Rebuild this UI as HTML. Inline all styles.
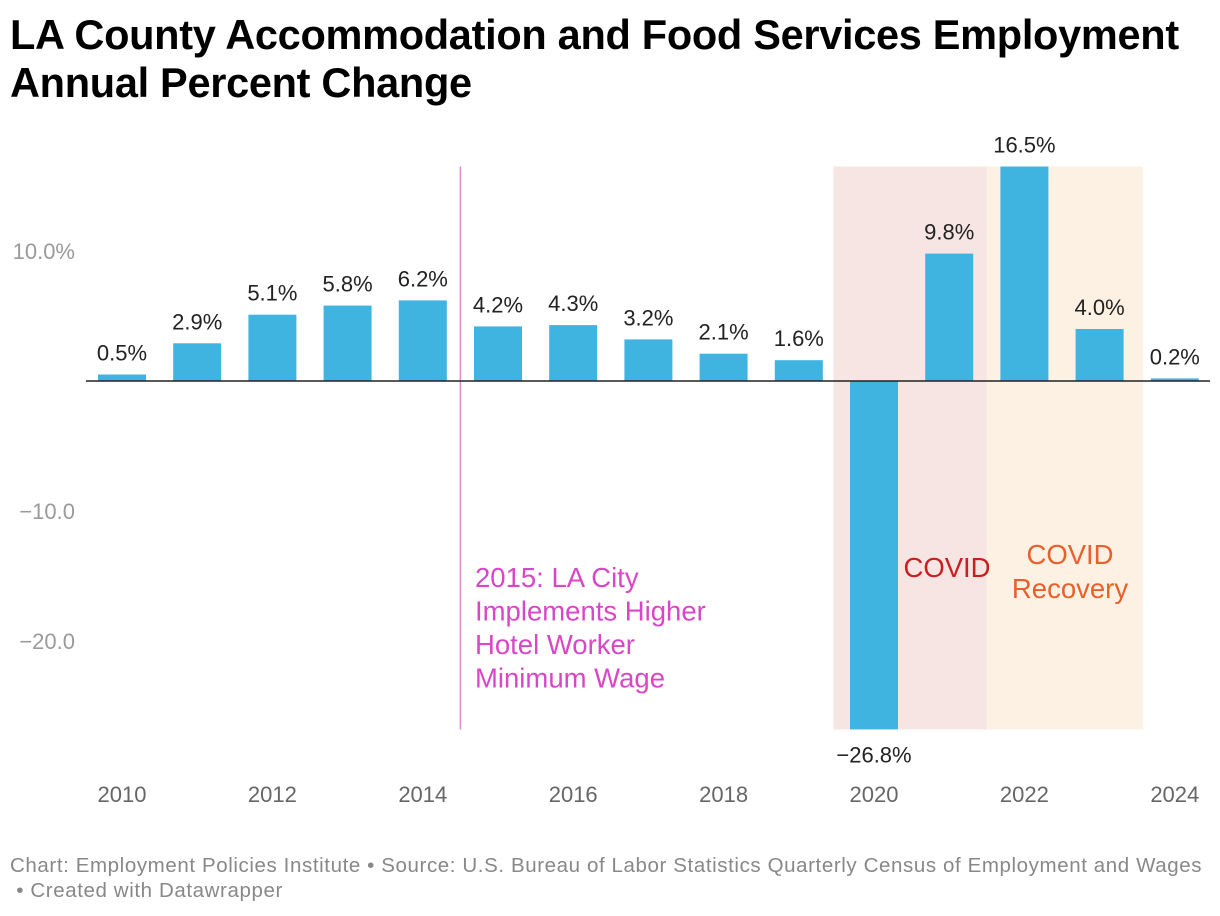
<!DOCTYPE html>
<html><head><meta charset="utf-8">
<style>
body{margin:0;background:#fff;font-family:"Liberation Sans",sans-serif;}
#wrap{position:relative;width:1220px;height:916px;overflow:hidden;}
h1{position:absolute;left:10px;top:11px;margin:0;font-size:41.5px;line-height:48px;font-weight:bold;color:#000;letter-spacing:-0.3px;white-space:nowrap;}
.foot{position:absolute;left:10px;font-size:20.5px;color:#888;letter-spacing:0.6px;white-space:nowrap;}
</style></head><body>
<div id="wrap">
<h1>LA County Accommodation and Food Services Employment<br>Annual Percent Change</h1>
<svg id="chart" width="1220" height="916" style="position:absolute;left:0;top:0"></svg>
<div class="foot" style="top:854px">Chart: Employment Policies Institute • Source: U.S. Bureau of Labor Statistics Quarterly Census of Employment and Wages</div>
<div class="foot" style="top:879px">&nbsp;• Created with Datawrapper</div>
</div>
<script>
const years=[2010,2011,2012,2013,2014,2015,2016,2017,2018,2019,2020,2021,2022,2023,2024];
const values=[0.5,2.9,5.1,5.8,6.2,4.2,4.3,3.2,2.1,1.6,-26.8,9.8,16.5,4.0,0.2];
const yTicks=[10,-10,-20];
const xTicks=[2010,2012,2014,2016,2018,2020,2022,2024];
const NS="http://www.w3.org/2000/svg";
const svg=document.getElementById('chart');
const x=yr=>122+(yr-2010)*75.2;
const y=v=>381-v*13;
function mk(t,a,txt){const e=document.createElementNS(NS,t);for(const k in a)e.setAttribute(k,a[k]);if(txt!=null)e.textContent=txt;svg.appendChild(e);return e;}
let r=mk('rect',{x:x(2019.5)-3,y:y(16.5),width:x(2021.5)-x(2019.5)+3,height:y(-26.8)-y(16.5),fill:'#f7e5e4'});


r=mk('rect',{x:x(2021.5),y:y(16.5),width:x(2023.5)-x(2021.5)+6,height:y(-26.8)-y(16.5),fill:'#fdf1e3'});


let l=mk('line',{x1:x(2014.5),x2:x(2014.5),y1:y(16.5),y2:y(-26.8),stroke:'#d78ad0','stroke-width':1.5});


yTicks.forEach(t=>{
 const e=mk('text',{x:75,y:y(t)+8,'text-anchor':'end','font-size':22,fill:'#9a9a9a'},(t<0?'\u2212'+Math.abs(t).toFixed(1):t.toFixed(1))+(t===10?'%':''));
 
 
});
xTicks.forEach(t=>{
 const e=mk('text',{x:x(t),y:802,'text-anchor':'middle','font-size':22,fill:'#666'},t);
 
 
});
years.forEach((yr,i)=>{
 const v=values[i];
 const b=mk('rect',{x:x(yr)-24,y:Math.min(y(v),y(0)),width:48,height:Math.abs(y(v)-y(0)),fill:'#3fb4e1'});
 
 
 const lbl=(v<0?'\u2212'+Math.abs(v).toFixed(1):v.toFixed(1))+'%';
 const ty=v<0?y(v)+33:y(v)-14;
 const t=mk('text',{x:x(yr),y:ty,'text-anchor':'middle','font-size':22,fill:'#222'},lbl);
 
 
});
l=mk('line',{x1:86,x2:1210,y1:y(0),y2:y(0),stroke:'#222','stroke-width':1.5});


const ann=['2015: LA City','Implements Higher','Hotel Worker','Minimum Wage'];
ann.forEach((s,i)=>{
 const e=mk('text',{x:475,y:587+i*33.5,'font-size':27.5,fill:'#d946c8'},s);
 
 
});
let e=mk('text',{x:947,y:577,'text-anchor':'middle','font-size':27.5,fill:'#c8201f'},'COVID');


['COVID','Recovery'].forEach((s,i)=>{
 const a=mk('text',{x:1070,y:564+i*34,'text-anchor':'middle','font-size':27.5,fill:'#e8602c'},s);
 
 
});
</script>
</body></html>
